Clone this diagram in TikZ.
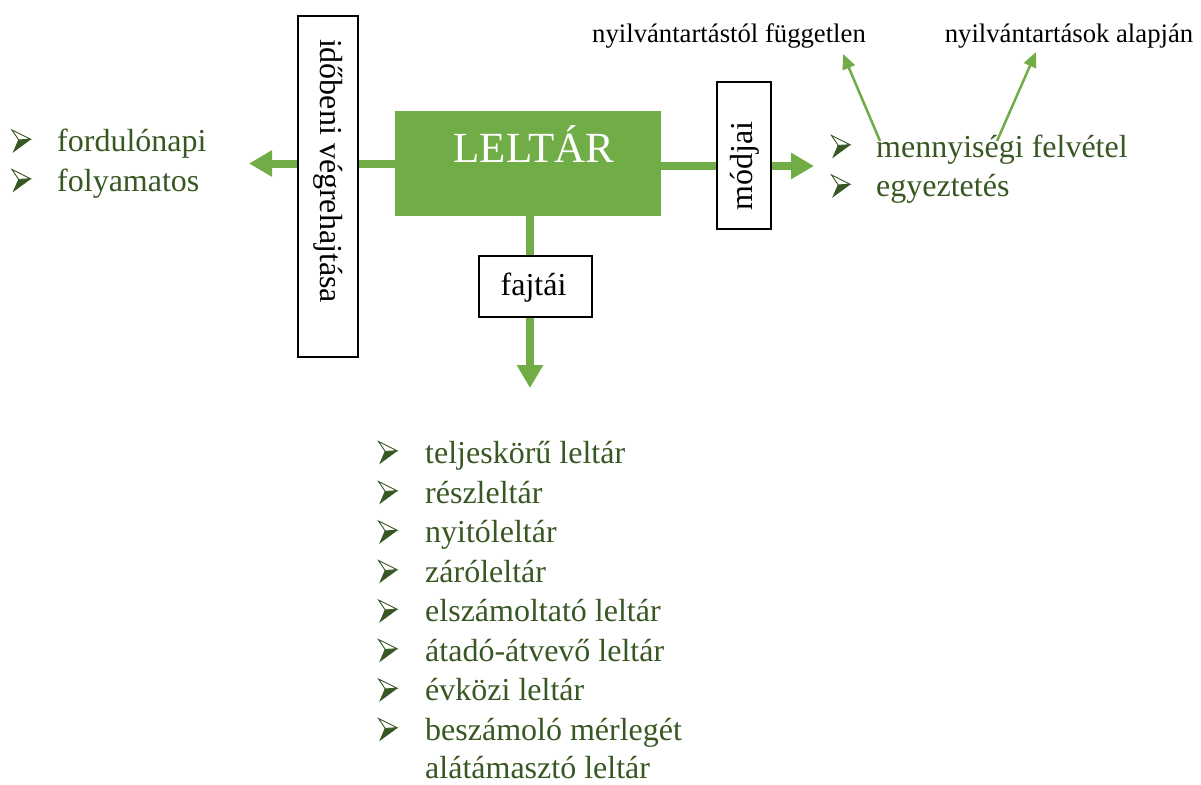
\documentclass[tikz,border=0pt]{standalone}
\usepackage{fontspec}
\setmainfont{Liberation Serif}
\usetikzlibrary{arrows.meta}
\definecolor{leafgreen}{HTML}{70AD47}
\definecolor{darkleaf}{HTML}{385723}
\begin{document}
\begin{tikzpicture}[x=1pt,y=-1pt,
  txt/.style={font=\fontsize{32}{38}\selectfont, inner sep=0pt},
  labelbox/.style={draw=black, line width=1.5pt, fill=white, inner sep=0pt},
  thickarrow/.style={draw=leafgreen, line width=8pt, -{Triangle[length=23pt,width=25pt]}},
  thinarrow/.style={draw=leafgreen, line width=2.5pt, -{Triangle[length=15pt,width=13pt]}},
  item/.style={txt, text=darkleaf, anchor=base west},
  toplabel/.style={font=\fontsize{26.7}{30}\selectfont, inner sep=0pt, anchor=base},
  arrowbullet/.pic={
    % lower face, filled
    \fill[darkleaf] (6.7,-11.6) -- (18.5,-12.3) -- (1.7,0) -- cycle;
    % upper face, outlined only
    \draw[darkleaf, line width=0.9pt, line join=miter, fill=white]
      (0,-21.5) -- (18.5,-12.3) -- (6.7,-11.6) -- cycle;
    \draw[darkleaf, line width=0.9pt, line join=miter]
      (6.7,-11.6) -- (1.7,0) -- (18.5,-12.3);
  },
]
\useasboundingbox (0,0) rectangle (1201,784);

% central block
\node[fill=leafgreen, minimum width=266pt, minimum height=105pt, inner sep=0pt] (leltar) at (528,163.5) {};
\node[font=\fontsize{43}{48}\selectfont, text=white, inner sep=0pt, anchor=base] (leltartxt) at (534,162) {LELTÁR};

% connector end points
\coordinate (lefttip) at (249,163.5);
\coordinate (downtip) at (530,388);
\coordinate (righttip) at (814,166);

% thick connectors (drawn before the label boxes that sit on them)
\draw[thickarrow] (leltar.west) -- (lefttip);
\draw[thickarrow] ([xshift=2pt]leltar.south) -- (downtip);
\draw[thickarrow] ([yshift=-2.5pt]leltar.east) -- (righttip);

% label boxes
\node[labelbox, minimum width=60pt, minimum height=341pt] (idobox) at (328,186.5) {};
\node[txt, rotate=-90] (idotxt) at (328,171) {időbeni végrehajtása};

\node[labelbox, minimum width=54pt, minimum height=147pt] (modbox) at (744,155.5) {};
\node[txt, rotate=90] (modtxt) at (745,166) {módjai};

\node[labelbox, minimum width=113pt, minimum height=61pt] (fajbox) at (535.5,286.5) {};
\node[txt, anchor=base] (fajtxt) at (533.5,295) {fajtái};

% left list
\pic at (12,151.5) {arrowbullet};
\node[item] (li1) at (57,151.5) {fordulónapi};
\pic at (12,191) {arrowbullet};
\node[item] (li2) at (57,191) {folyamatos};

% right list
\pic at (831.5,157) {arrowbullet};
\node[item] (ri1) at (876,157) {mennyiségi felvétel};
\pic at (831.5,196.5) {arrowbullet};
\node[item] (ri2) at (876,196.5) {egyeztetés};

% top labels and their arrows
\node[toplabel] (indep) at (729,42) {nyilvántartástól független};
\node[toplabel] (based) at (1069,42) {nyilvántartások alapján};
\coordinate (s1) at (880,141);
\coordinate (t1) at (843,54);
\coordinate (s2) at (997,141);
\coordinate (t2) at (1036,52);
\draw[thinarrow] (s1) -- (t1);
\draw[thinarrow] (s2) -- (t2);

% bottom list
\foreach \y/\t [count=\i] in {463/teljeskörű leltár, 503/részleltár, 542.5/nyitóleltár,
   582/záróleltár, 621.5/elszámoltató leltár, 661/átadó-átvevő leltár,
   700.5/évközi leltár, 740/beszámoló mérlegét} {
  \pic at (378.5,\y) {arrowbullet};
  \node[item] (bi\i) at (425,\y) {\t};
}
\node[item] (bi9) at (425,778.5) {alátámasztó leltár};
\end{tikzpicture}
\end{document}
